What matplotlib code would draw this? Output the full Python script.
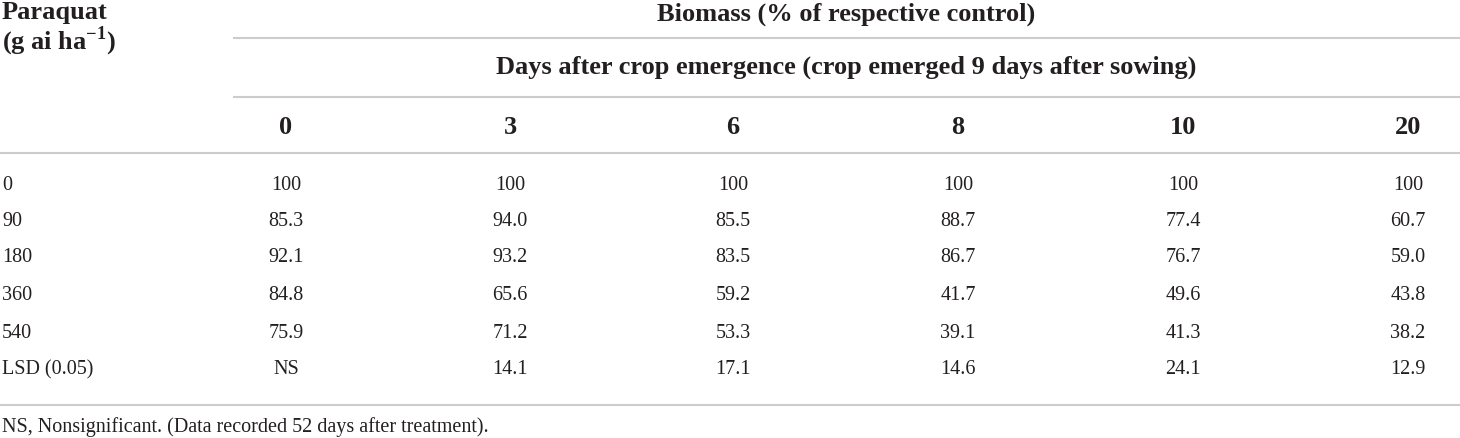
import matplotlib
matplotlib.use("Agg")
import matplotlib.pyplot as plt

plt.rcParams['font.family'] = ['Liberation Serif', 'DejaVu Serif']

# table content
row_labels = ['0', '90', '180', '360', '540', 'LSD (0.05)']
days = ['0', '3', '6', '8', '10', '20']
biomass = [
    ['100', '100', '100', '100', '100', '100'],
    ['85.3', '94.0', '85.5', '88.7', '77.4', '60.7'],
    ['92.1', '93.2', '83.5', '86.7', '76.7', '59.0'],
    ['84.8', '65.6', '59.2', '41.7', '49.6', '43.8'],
    ['75.9', '71.2', '53.3', '39.1', '41.3', '38.2'],
    ['NS', '14.1', '17.1', '14.6', '24.1', '12.9'],
]
title_top = 'Biomass (% of respective control)'
title_sub = 'Days after crop emergence (crop emerged 9 days after sowing)'
footnote = 'NS, Nonsignificant. (Data recorded 52 days after treatment).'

# layout (pixels)
W, H = 1460, 438
col_x = [286, 510, 733, 958, 1183, 1408]
row_y = [185, 222, 258, 296, 333, 370]
txt = '#231f20'
rule = '#cccccc'
hsize = 19
bsize = 14.5

fig = plt.figure(figsize=(W / 100, H / 100), dpi=100)
ax = fig.add_axes([0, 0, 1, 1])
ax.set_xlim(0, W)
ax.set_ylim(H, 0)
ax.axis('off')

# rules
ax.hlines([38, 97], 233, W, color=rule, lw=1.5)
ax.hlines([153, 405], 0, W, color=rule, lw=1.5)

# header
ax.text(2, 12, 'Paraquat', fontsize=hsize, fontweight='bold', color=txt, va='center')
ax.text(2, 41, '(g ai ha$^{\\mathregular{-1}}$)', fontsize=hsize, fontweight='bold',
        color=txt, va='center')
ax.text(846, 14, title_top, fontsize=hsize, fontweight='bold', color=txt, ha='center', va='center')
ax.text(846, 67, title_sub, fontsize=hsize, fontweight='bold', color=txt, ha='center', va='center')
for x, d in zip(col_x, days):
    ax.text(x, 127, d, fontsize=hsize, fontweight='bold', color=txt, ha='center', va='center')

# body
for y, lab, vals in zip(row_y, row_labels, biomass):
    ax.text(2, y, lab, fontsize=bsize, color=txt, va='center')
    for x, v in zip(col_x, vals):
        ax.text(x, y, v, fontsize=bsize, color=txt, ha='center', va='center')

ax.text(2, 427, footnote, fontsize=bsize, color=txt, va='center')

fig.savefig('out.png', dpi=100)
